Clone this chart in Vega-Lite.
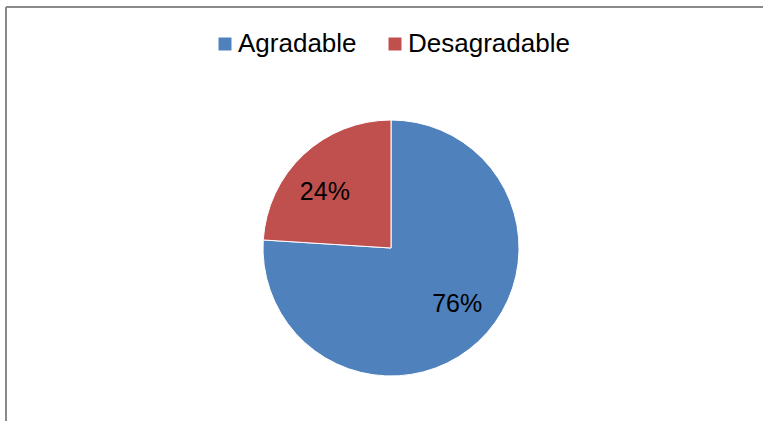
{
  "$schema": "https://vega.github.io/schema/vega-lite/v6.json",
  "width": 758,
  "height": 416,
  "padding": {"left": 6, "top": 7, "right": 0, "bottom": 0},
  "background": "white",
  "view": {"stroke": "#898989", "strokeWidth": 2, "fill": "white", "strokeDash": [757, 1177, 414, 0]},
  "config": {
    "font": "Liberation Sans"
  },
  "data": {
    "values": [
      {"category": "Agradable", "value": 76, "label": "76%", "rank": 1},
      {"category": "Desagradable", "value": 24, "label": "24%", "rank": 2}
    ]
  },
  "layer": [
    {
      "mark": {"type": "arc", "outerRadius": 128, "stroke": "white", "strokeWidth": 1, "x": 385, "y": 241},
      "encoding": {
        "theta": {"field": "value", "type": "quantitative", "stack": true},
        "order": {"field": "rank", "type": "quantitative"},
        "color": {
          "field": "category",
          "type": "nominal",
          "scale": {"domain": ["Agradable", "Desagradable"], "range": ["#4F81BD", "#C0504D"]},
          "legend": {
            "title": null,
            "orient": "none",
            "direction": "horizontal",
            "legendX": 206,
            "legendY": 24,
            "symbolType": "square",
            "symbolSize": 169,
            "symbolStrokeWidth": 0,
            "labelFont": "Liberation Sans",
            "labelFontSize": 26,
            "labelColor": "black",
            "labelOffset": 0,
            "labelLimit": 0,
            "columnPadding": 25,
            "padding": 0
          }
        }
      }
    },
    {
      "mark": {"type": "text", "radius": 87, "thetaOffset": -0.11, "x": 385, "y": 241, "font": "Liberation Sans", "fontSize": 25, "color": "black", "align": "center", "baseline": "middle"},
      "encoding": {
        "theta": {"field": "value", "type": "quantitative", "stack": true},
        "order": {"field": "rank", "type": "quantitative"},
        "text": {"field": "label", "type": "nominal"}
      }
    }
  ]
}
